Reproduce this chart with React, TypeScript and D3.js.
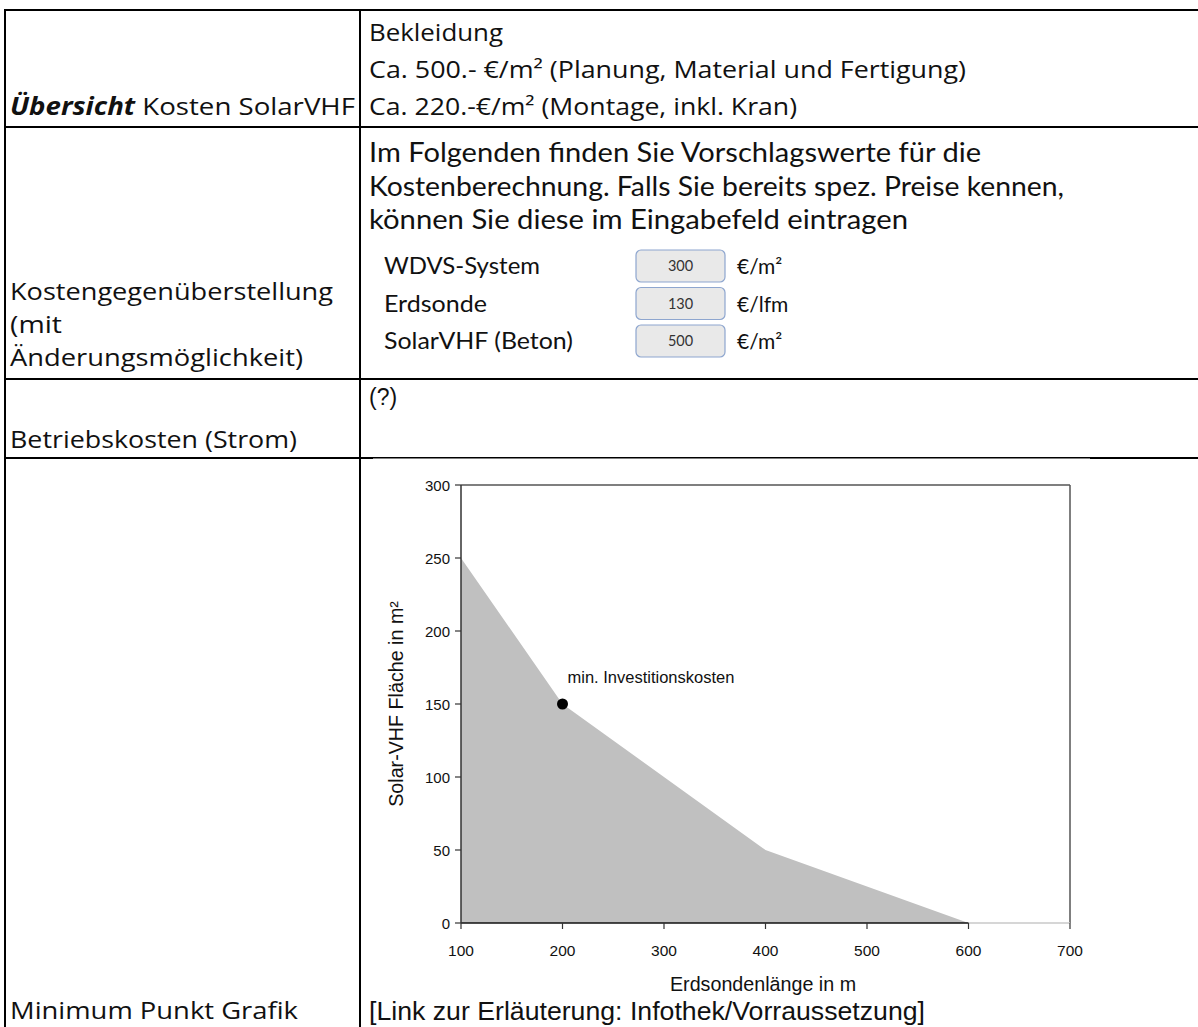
import React from "react";
import * as d3 from "d3";

// ---- data ----
const areaX = [100, 200, 400, 600];
const areaY = [250, 150, 50, 0];
const minPointX = 200;
const minPointY = 150;
const minPointLabel = "min. Investitionskosten";
const xTicks = [100, 200, 300, 400, 500, 600, 700];
const yTicks = [0, 50, 100, 150, 200, 250, 300];
const xLabel = "Erdsondenlänge in m";
const yLabel = "Solar-VHF Fläche in m²";

const inputLabels = ["WDVS-System", "Erdsonde", "SolarVHF (Beton)"];
const inputValues = [300, 130, 500];
const inputUnits = ["€/m²", "€/lfm", "€/m²"];

const row1Lines = [
  "Bekleidung",
  "Ca. 500.- €/m² (Planung, Material und Fertigung)",
  "Ca. 220.-€/m² (Montage, inkl. Kran)",
];
const row2Lines = [
  "Im Folgenden finden Sie Vorschlagswerte für die",
  "Kostenberechnung. Falls Sie bereits spez. Preise kennen,",
  "können Sie diese im Eingabefeld eintragen",
];
const row2Left = ["Kostengegenüberstellung", "(mit", "Änderungsmöglichkeit)"];

const row1Widths = [134, 597, 428];
const row2Widths = [612, 695, 539];
const row2LeftWidths = [323, 52, 293];
const inputLabelWidths = [156, 103, 189];

const W = 1198;
const H = 1027;
const UI = "'Open Sans', 'Noto Sans', sans-serif";
const CAL = "Lato, 'Open Sans', sans-serif";
const ARIAL = "'Liberation Sans', Arial, sans-serif";

export default function App() {
  const x = d3.scaleLinear().domain([100, 700]).range([461, 1070]);
  const y = d3.scaleLinear().domain([0, 300]).range([923, 485]);
  const pts = areaX.map((v, i) => [v, areaY[i]] as [number, number]);
  const area = d3
    .area<[number, number]>()
    .x((d) => x(d[0]))
    .y0(y(0))
    .y1((d) => y(d[1]))(pts);
  const lastX = areaX[areaX.length - 1];

  const colX = 360;
  const rowLines = [10, 127, 379, 458];
  const uiSize = 24.5;

  return (
    <div style={{ position: "absolute", left: 0, top: 0 }}>
      <svg width={W} height={H} style={{ display: "block", background: "#fff" }}>
        {/* table grid */}
        {rowLines.map((ry, i) => (
          <line key={i} x1={4} x2={1198} y1={ry} y2={ry} stroke="#000" strokeWidth={2} />
        ))}
        <line x1={5} x2={5} y1={9} y2={H} stroke="#000" strokeWidth={2} />
        <line x1={colX} x2={colX} y1={9} y2={H} stroke="#000" strokeWidth={2} />

        {/* row 1 */}
        {row1Lines.map((t, i) => (
          <text key={i} x={369} y={41 + i * 37} fontFamily={UI} fontSize={uiSize} fill="#111"
            textLength={row1Widths[i]} lengthAdjust="spacingAndGlyphs">
            {t}
          </text>
        ))}
        <text x={10} y={115} fontFamily={UI} fontSize={uiSize} fill="#111" textLength={345} lengthAdjust="spacingAndGlyphs">
          <tspan fontWeight="bold" fontStyle="italic">Übersicht</tspan> Kosten SolarVHF
        </text>

        {/* row 2 */}
        {row2Lines.map((t, i) => (
          <text key={i} x={369} y={162 + i * 33.5} fontFamily={CAL} fontSize={26} fill="#111"
            textLength={row2Widths[i]} lengthAdjust="spacingAndGlyphs">
            {t}
          </text>
        ))}
        {inputLabels.map((t, i) => {
          const cy = 266 + i * 37.5;
          return (
            <g key={i}>
              <text x={384} y={cy + 8} fontFamily={CAL} fontSize={23} fill="#111"
                textLength={inputLabelWidths[i]} lengthAdjust="spacingAndGlyphs">
                {t}
              </text>
              <rect x={636} y={cy - 16} width={89} height={32} rx={5} fill="#e9e9e9" stroke="#8ea6cf" strokeWidth={1.2} />
              <text x={680.5} y={cy + 5} textAnchor="middle" fontFamily={CAL} fontSize={14.5} fill="#333">
                {inputValues[i]}
              </text>
              <text x={737} y={cy + 8} fontFamily={CAL} fontSize={21} fill="#111">
                {inputUnits[i]}
              </text>
            </g>
          );
        })}
        {row2Left.map((t, i) => (
          <text key={i} x={10} y={300 + i * 33} fontFamily={UI} fontSize={uiSize} fill="#111"
            textLength={row2LeftWidths[i]} lengthAdjust="spacingAndGlyphs">
            {t}
          </text>
        ))}

        {/* row 3 */}
        <text x={369} y={405} fontFamily={ARIAL} fontSize={23} fill="#111">(?)</text>
        <text x={10} y={448} fontFamily={UI} fontSize={uiSize} fill="#111" textLength={287} lengthAdjust="spacingAndGlyphs">
          Betriebskosten (Strom)
        </text>

        {/* row 4 */}
        <text x={10} y={1019} fontFamily={UI} fontSize={uiSize} fill="#111" textLength={288} lengthAdjust="spacingAndGlyphs">
          Minimum Punkt Grafik
        </text>
        <text x={369} y={1020} fontFamily={ARIAL} fontSize={26} fill="#111" textLength={556} lengthAdjust="spacingAndGlyphs">
          [Link zur Erläuterung: Infothek/Vorraussetzung]
        </text>

        {/* chart image background partially covering border */}
        <rect x={373} y={458.5} width={717} height={1.5} fill="#fff" />

        {/* chart */}
        <path d={area ?? ""} fill="#c0c0c0" />
        <line x1={x(100)} x2={x(700)} y1={y(300)} y2={y(300)} stroke="#555" strokeWidth={1.5} />
        <line x1={x(700)} x2={x(700)} y1={y(300)} y2={y(0)} stroke="#555" strokeWidth={1.5} />
        <line x1={x(lastX)} x2={x(700)} y1={y(0)} y2={y(0)} stroke="#c8c8c8" strokeWidth={1.5} />
        <line x1={x(100)} x2={x(lastX)} y1={y(0)} y2={y(0)} stroke="#111" strokeWidth={1.5} />
        <line x1={x(100)} x2={x(100)} y1={y(300)} y2={y(0)} stroke="#333" strokeWidth={1.5} />
        {yTicks.map((t) => (
          <g key={t}>
            <line x1={x(100) - 6} x2={x(100)} y1={y(t)} y2={y(t)} stroke="#333" strokeWidth={1.2} />
            <text x={x(100) - 11} y={y(t) + 5.5} textAnchor="end" fontFamily={ARIAL} fontSize={15} fill="#111">
              {t}
            </text>
          </g>
        ))}
        {xTicks.map((t) => (
          <g key={t}>
            <line x1={x(t)} x2={x(t)} y1={y(0)} y2={y(0) + 6} stroke="#333" strokeWidth={1.2} />
            <text x={x(t)} y={y(0) + 33} textAnchor="middle" fontFamily={ARIAL} fontSize={15.5} fill="#111">
              {t}
            </text>
          </g>
        ))}
        <text x={763} y={991} textAnchor="middle" fontFamily={ARIAL} fontSize={19.7} fill="#111">
          {xLabel}
        </text>
        <text
          transform={`translate(403, ${y(150)}) rotate(-90)`}
          textAnchor="middle"
          fontFamily={ARIAL}
          fontSize={19.7}
          fill="#111"
        >
          {yLabel}
        </text>
        <circle cx={x(minPointX)} cy={y(minPointY)} r={5.5} fill="#000" />
        <text x={x(minPointX) + 5} y={y(minPointY) - 21} fontFamily={ARIAL} fontSize={16.5} fill="#111">
          {minPointLabel}
        </text>
      </svg>
    </div>
  );
}
